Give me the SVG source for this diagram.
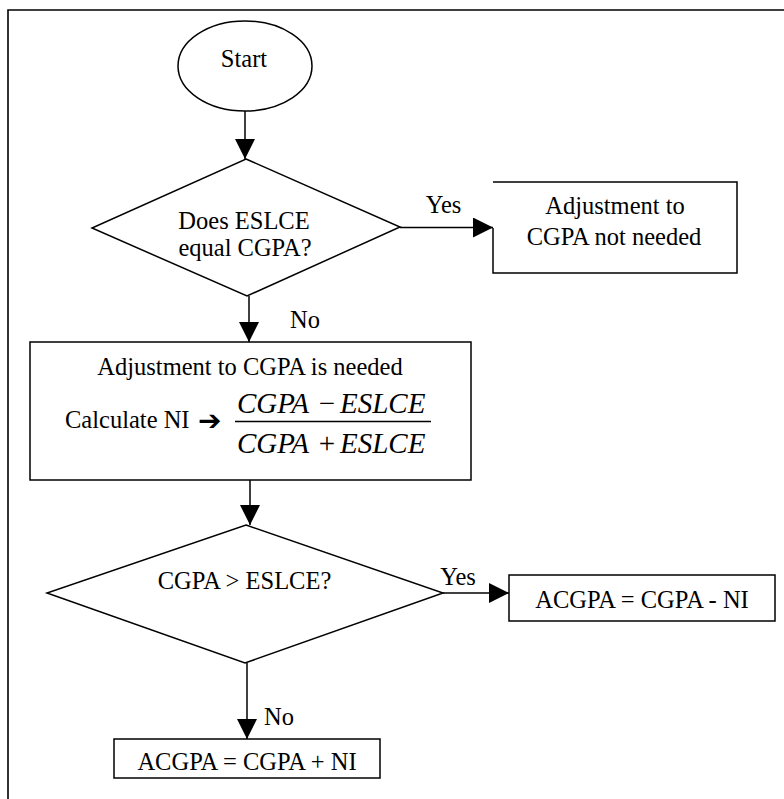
<svg xmlns="http://www.w3.org/2000/svg" width="784" height="799" viewBox="0 0 784 799">
<defs>
<marker id="ah" viewBox="0 0 20 20" refX="20" refY="10" markerWidth="20" markerHeight="20" markerUnits="userSpaceOnUse" orient="auto">
<path d="M0,0 L20,10 L0,20 z" fill="#000"/>
</marker>
<style>
.s{fill:#fff;stroke:#000;stroke-width:1.5}
.c{fill:none;stroke:#000;stroke-width:1.5;marker-end:url(#ah)}
.t{font-family:"Liberation Serif","Times New Roman",serif;font-size:24.5px;fill:#000}
.m{text-anchor:middle}
.i{font-family:"Liberation Serif","Times New Roman",serif;font-size:29px;font-style:italic;fill:#000}
.o{font-family:"Liberation Serif","Times New Roman",serif;font-size:29px;fill:#000;text-anchor:middle}
</style>
</defs>
<rect width="784" height="799" fill="#fff"/>
<g id="frame"><path d="M8,799 V10 H784" fill="none" stroke="#000" stroke-width="1.6"/></g>
<g id="connectors">
<line class="c" x1="245" y1="111" x2="245" y2="159"/>
<line class="c" x1="400" y1="227.5" x2="493" y2="227.5"/>
<line class="c" x1="249" y1="296" x2="249" y2="342"/>
<line class="c" x1="250" y1="480" x2="250" y2="525"/>
<line class="c" x1="443" y1="593" x2="509" y2="593"/>
<line class="c" x1="247" y1="663" x2="247" y2="739"/>
<text class="t m" x="443.5" y="213">Yes</text>
<text class="t m" x="305" y="328">No</text>
<text class="t m" x="458" y="585">Yes</text>
<text class="t m" x="279" y="725">No</text>
</g>
<g id="start">
<ellipse class="s" cx="245" cy="66" rx="67" ry="45"/>
<text class="t m" x="244" y="67">Start</text>
</g>
<g id="decision1">
<polygon class="s" points="246,159 400,227 247,296 92,228"/>
<text class="t m" x="244" y="229">Does ESLCE</text>
<text class="t m" x="245" y="256">equal CGPA?</text>
</g>
<g id="notNeeded">
<rect x="493" y="182" width="244" height="91" fill="#fff"/>
<path d="M493,228 V273 H737 V182 H493" fill="none" stroke="#000" stroke-width="1.5"/>
<text class="t m" x="615" y="214">Adjustment to</text>
<text class="t m" x="614" y="245">CGPA not needed</text>
</g>
<g id="needed">
<rect class="s" x="30" y="342" width="441" height="138"/>
<text class="t m" x="250" y="375">Adjustment to CGPA is needed</text>
<text class="t" x="65" y="428">Calculate NI</text>
<text x="198" y="430" font-family="DejaVu Sans, sans-serif" font-size="28" font-weight="bold">➔</text>
<text class="i" x="237" y="413">CGPA</text>
<text class="o" x="327" y="413">−</text>
<text class="i" x="340" y="413">ESLCE</text>
<line x1="235" y1="421.5" x2="431" y2="421.5" stroke="#000" stroke-width="1.3"/>
<text class="i" x="237" y="453">CGPA</text>
<text class="o" x="327" y="453">+</text>
<text class="i" x="340" y="453">ESLCE</text>
</g>
<g id="decision2">
<polygon class="s" points="246,525 443,593 245,663 47,593"/>
<text class="t m" x="244.5" y="589">CGPA &gt; ESLCE?</text>
</g>
<g id="minus">
<rect class="s" x="509" y="575" width="266" height="46"/>
<text class="t m" x="642" y="608">ACGPA = CGPA - NI</text>
</g>
<g id="plus">
<rect class="s" x="114" y="739" width="266" height="39"/>
<text class="t m" x="247" y="770">ACGPA = CGPA + NI</text>
</g>
</svg>
